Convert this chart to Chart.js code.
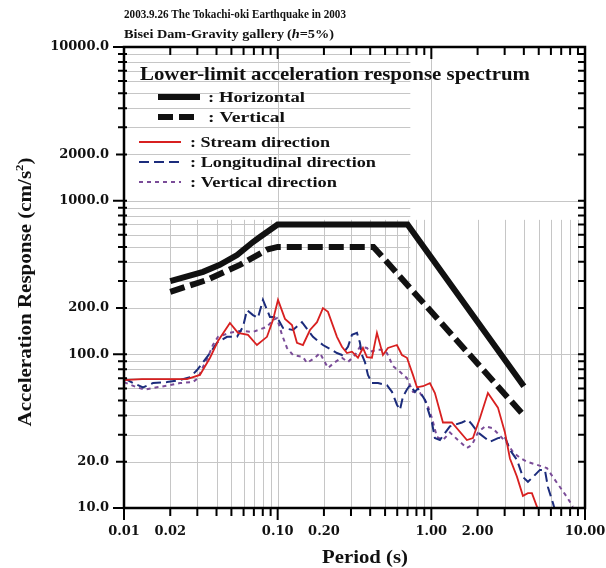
<!DOCTYPE html>
<html>
<head>
<meta charset="utf-8">
<script src="https://cdn.jsdelivr.net/npm/chart.js@4/dist/chart.umd.min.js"></script>
<style>
  html, body { margin: 0; padding: 0; background: #fff; }
  #wrap { width: 606px; height: 568px; }
</style>
</head>
<body>
<div id="wrap"><canvas id="spectrum" width="606" height="568"></canvas></div>
<script>
// Tick labels
const xTickValues = [0.01, 0.02, 0.1, 0.2, 1, 2, 10];
const xTickLabels = ['0.01', '0.02', '0.10', '0.20', '1.00', '2.00', '10.00'];
const yTickValues = [10, 20, 100, 200, 1000, 2000, 10000];
const yTickLabels = ['10.0', '20.0', '100.0', '200.0', '1000.0', '2000.0', '10000.0'];

// Lower-limit acceleration response spectrum
const limitHorizT = [0.02, 0.0327, 0.042, 0.0544, 0.0691, 0.0767, 0.1, 0.7, 4.0];
const limitHorizA = [300, 344, 382, 443, 538, 580, 700, 700, 62];
const limitVertT = [0.02, 0.0347, 0.0568, 0.0852, 0.1, 0.42, 4.0];
const limitVertA = [255, 305, 382, 480, 500, 500, 40];

// Stream direction (observed)
const streamT = [0.01, 0.0131, 0.0257, 0.0312, 0.0363, 0.0409, 0.0489, 0.0552, 0.0641, 0.0733,
  0.0852, 0.0932, 0.1005, 0.1116, 0.1239, 0.1335, 0.1461, 0.1623, 0.1803, 0.1971,
  0.2125, 0.2431, 0.262, 0.2824, 0.3044, 0.3331, 0.3589, 0.3811, 0.4107, 0.4426,
  0.4843, 0.5219, 0.5973, 0.6438, 0.6939, 0.7591, 0.806, 0.8818, 0.979, 1.055,
  1.19, 1.361, 1.704, 1.865, 2.072, 2.335, 2.713, 3.013, 3.247, 3.606,
  3.945, 4.252, 4.514, 4.866, 5.1];
const streamA = [68, 69, 69, 73.5, 95, 122, 160, 138, 134, 115,
  130, 167, 226, 170, 155, 119, 115, 144, 162, 200,
  189, 130, 112, 102, 104, 95, 110, 96, 95, 138,
  99, 110, 115, 99, 95, 73.5, 61, 62, 65, 56,
  36, 36, 27.7, 28.5, 38.5, 56, 45, 31, 21, 16,
  12, 12.5, 12.5, 10.2, 9];

// Longitudinal direction (observed)
const longT = [0.01, 0.01144, 0.0133, 0.01544, 0.01905, 0.0231, 0.0269, 0.0299, 0.0327, 0.0363,
  0.0403, 0.0468, 0.0544, 0.0595, 0.0631, 0.0691, 0.0744, 0.0802, 0.0891, 0.0989,
  0.1083, 0.1258, 0.1439, 0.1697, 0.1971, 0.2431, 0.262, 0.2867, 0.3044, 0.3281,
  0.3432, 0.3537, 0.3698, 0.3868, 0.4107, 0.4494, 0.5142, 0.5543, 0.5973, 0.6248,
  0.6535, 0.6939, 0.7257, 0.7822, 0.8181, 0.9087, 1.009, 1.055, 1.137, 1.321,
  1.581, 1.73, 1.837, 2.011, 2.406, 2.713, 3.013, 3.247, 3.606, 3.945,
  4.252, 4.581, 5.089, 5.484, 5.736, 6.182, 6.371];
const longA = [70, 65, 61, 65, 66, 68, 71, 79, 89, 102,
  119, 130, 130, 151, 194, 180, 172.5, 226, 175, 175,
  148.5, 144, 162, 130, 115, 102, 99, 112, 134, 138,
  119, 99, 89, 73.5, 65, 65, 63, 57, 47, 43.5,
  53, 59, 63, 57, 60, 50.5, 36, 28.5, 27.7, 34,
  36, 37.5, 35, 31, 27, 28.5, 29, 23.9, 20.6, 15.9,
  14.8, 15.9, 17.7, 17.7, 13.7, 10.8, 9.7];

// Vertical direction (observed)
const vertT = [0.01, 0.01215, 0.0137, 0.0164, 0.0199, 0.0231, 0.0281, 0.0303, 0.0327, 0.0352,
  0.0379, 0.0409, 0.0489, 0.0568, 0.0691, 0.0852, 0.0932, 0.0989, 0.1067, 0.115,
  0.1258, 0.1461, 0.1551, 0.1748, 0.1885, 0.2125, 0.236, 0.262, 0.2867, 0.3184,
  0.3432, 0.3811, 0.3986, 0.4426, 0.4843, 0.5142, 0.5627, 0.6248, 0.6939, 0.7591,
  0.8431, 0.9363, 1.009, 1.087, 1.19, 1.321, 1.489, 1.704, 1.837, 2.011,
  2.233, 2.516, 2.795, 3.104, 3.396, 3.771, 4.188, 4.866, 5.651, 6.182,
  6.867, 7.624, 8.34];
const vertA = [66, 61, 59, 61, 63, 65, 66, 70, 83, 96,
  115, 130, 138, 142, 140, 151, 167, 172, 134, 110,
  99, 96, 88, 95, 102, 81.5, 89, 95, 89, 99,
  112, 110, 104, 107, 107, 102, 84, 77, 70, 57,
  56, 48, 38.5, 29, 27.7, 31, 27.7, 24.6, 25.7, 31,
  34, 33, 29.5, 26.5, 23.2, 21.2, 20, 19.1, 18.2, 15.9,
  13.7, 11.8, 10.2];

const SERIF = '"Liberation Serif", "Times New Roman", serif';
const TICKFONT = '"DejaVu Serif", serif';

function toPoints(ts, as) {
  return ts.map((t, i) => ({ x: t, y: as[i] }));
}

// every 1..9 x 10^n value between lo and hi
function logSteps(lo, hi) {
  const out = [];
  for (let e = Math.floor(Math.log10(lo)); e <= Math.ceil(Math.log10(hi)); e++) {
    for (let k = 1; k <= 9; k++) {
      const v = +(k * Math.pow(10, e)).toPrecision(3);
      if (v >= lo * 0.999 && v <= hi * 1.001) out.push({ v: v, k: k });
    }
  }
  return out;
}

// draws runs of text squeezed/stretched to a given total width
function drawRuns(ctx, runs, x, y, width, align) {
  let total = 0;
  runs.forEach(r => { ctx.font = r.font; r.w = ctx.measureText(r.text).width; total += r.w; });
  const sx = width / total;
  ctx.save();
  ctx.translate(x, y);
  ctx.scale(sx, 1);
  ctx.textAlign = 'left';
  let cx = align === 'center' ? -total / 2 : 0;
  runs.forEach(r => {
    ctx.font = r.font;
    ctx.fillText(r.text, cx, r.dy || 0);
    cx += r.w;
  });
  ctx.restore();
}

// grid lines, frame and tick marks
const framePlugin = {
  id: 'frame',
  beforeDatasetsDraw(chart) {
    const { ctx, chartArea: a, scales: { x, y } } = chart;
    ctx.save();
    ctx.strokeStyle = '#c6c6c6';
    ctx.lineWidth = 1;
    const yMinorTop = y.getPixelForValue(750);
    logSteps(0.01, 10).forEach(s => {
      const px = Math.round(x.getPixelForValue(s.v)) + 0.5;
      if (px <= a.left + 2 || px >= a.right - 2) return;
      ctx.beginPath();
      ctx.moveTo(px, s.k === 1 ? a.top : yMinorTop);
      ctx.lineTo(px, a.bottom);
      ctx.stroke();
    });
    const xMinorRight = x.getPixelForValue(0.73);
    logSteps(10, 10000).forEach(s => {
      const py = Math.round(y.getPixelForValue(s.v)) + 0.5;
      if (py <= a.top + 2 || py >= a.bottom - 2) return;
      ctx.beginPath();
      ctx.moveTo(a.left, py);
      ctx.lineTo(s.k === 1 ? a.right : xMinorRight, py);
      ctx.stroke();
    });
    ctx.restore();
  },
  afterDatasetsDraw(chart) {
    const { ctx, chartArea: a, scales: { x, y } } = chart;
    ctx.save();
    ctx.strokeStyle = '#000';
    ctx.lineWidth = 2.5;
    ctx.strokeRect(a.left, a.top, a.right - a.left, a.bottom - a.top);

    ctx.lineWidth = 2;
    logSteps(0.01, 10).forEach(s => {
      const px = x.getPixelForValue(s.v);
      const len = s.k === 1 ? 12 : 8;
      ctx.beginPath();
      ctx.moveTo(px, a.bottom);
      ctx.lineTo(px, a.bottom + len);
      ctx.moveTo(px, a.top);
      ctx.lineTo(px, a.top + len);
      ctx.stroke();
    });
    logSteps(10, 10000).forEach(s => {
      const py = y.getPixelForValue(s.v);
      const len = s.k === 1 ? 11 : (s.k === 2 ? 8 : 6);
      ctx.beginPath();
      ctx.moveTo(a.left - len, py);
      ctx.lineTo(a.left + 3, py);
      ctx.moveTo(a.right, py);
      ctx.lineTo(a.right - 7, py);
      ctx.stroke();
    });
    ctx.restore();
  }
};

// headings, legend and axis titles
const textPlugin = {
  id: 'texts',
  afterDraw(chart) {
    const { ctx } = chart;
    ctx.save();
    ctx.fillStyle = '#111';
    ctx.textBaseline = 'alphabetic';

    const f13 = 'bold 13px ' + SERIF;
    drawRuns(ctx, [{ text: '2003.9.26 The Tokachi-oki Earthquake in 2003', font: f13 }], 124, 18, 222);
    drawRuns(ctx, [
      { text: 'Bisei Dam-Gravity gallery\u2009(', font: f13 },
      { text: 'h', font: 'bold italic 13px ' + SERIF },
      { text: '=5%)', font: f13 }
    ], 124, 38, 210);

    drawRuns(ctx, [{ text: 'Lower-limit acceleration response spectrum', font: 'bold 19px ' + SERIF }], 140, 80, 390);

    const rows = [
      { x0: 158, x1: 200, y: 97, color: '#111', width: 6, dash: [], label: ': Horizontal', tx: 208, tw: 97 },
      { x0: 158, x1: 200, y: 117, color: '#111', width: 6, dash: [15, 6], label: ': Vertical', tx: 208, tw: 77 },
      { x0: 139, x1: 181, y: 142, color: '#d82020', width: 2, dash: [], label: ': Stream direction', tx: 190, tw: 140 },
      { x0: 139, x1: 181, y: 162, color: '#1c2c7c', width: 2, dash: [10, 5], label: ': Longitudinal direction', tx: 190, tw: 186 },
      { x0: 139, x1: 181, y: 182, color: '#7a4c98', width: 2, dash: [4, 4], label: ': Vertical direction', tx: 190, tw: 147 }
    ];
    rows.forEach(r => {
      ctx.beginPath();
      ctx.setLineDash(r.dash);
      ctx.strokeStyle = r.color;
      ctx.lineWidth = r.width;
      ctx.moveTo(r.x0, r.y);
      ctx.lineTo(r.x1, r.y);
      ctx.stroke();
      ctx.setLineDash([]);
      drawRuns(ctx, [{ text: r.label, font: 'bold 15px ' + SERIF }], r.tx, r.y + 5, r.tw);
    });

    drawRuns(ctx, [{ text: 'Period (s)', font: 'bold 19px ' + SERIF }], 365, 563, 86, 'center');

    ctx.translate(31, 292);
    ctx.rotate(-Math.PI / 2);
    drawRuns(ctx, [
      { text: 'Acceleration Response (cm/s', font: 'bold 18px ' + SERIF },
      { text: '2', font: 'bold 11px ' + SERIF, dy: -8 },
      { text: ')', font: 'bold 18px ' + SERIF }
    ], 0, 0, 269, 'center');
    ctx.restore();
  }
};

const ctx = document.getElementById('spectrum').getContext('2d');

new Chart(ctx, {
  type: 'line',
  data: {
    datasets: [
      {
        label: 'Horizontal',
        data: toPoints(limitHorizT, limitHorizA),
        borderColor: '#111',
        borderWidth: 6,
        pointRadius: 0,
        borderJoinStyle: 'miter'
      },
      {
        label: 'Vertical',
        data: toPoints(limitVertT, limitVertA),
        borderColor: '#111',
        borderWidth: 6,
        borderDash: [15, 6],
        pointRadius: 0
      },
      {
        label: 'Stream direction',
        data: toPoints(streamT, streamA),
        borderColor: '#d82020',
        borderWidth: 1.8,
        pointRadius: 0
      },
      {
        label: 'Longitudinal direction',
        data: toPoints(longT, longA),
        borderColor: '#1c2c7c',
        borderWidth: 2,
        borderDash: [10, 5],
        pointRadius: 0
      },
      {
        label: 'Vertical direction',
        data: toPoints(vertT, vertA),
        borderColor: '#7a4c98',
        borderWidth: 2,
        borderDash: [4, 4],
        pointRadius: 0
      }
    ]
  },
  options: {
    responsive: false,
    animation: false,
    layout: {
      padding: { left: 0, top: 47, right: 21, bottom: 0 }
    },
    plugins: {
      legend: { display: false },
      tooltip: { enabled: false }
    },
    scales: {
      x: {
        type: 'logarithmic',
        min: 0.01,
        max: 10,
        afterFit: scale => {
          scale.height = 60;
          scale.paddingLeft = 0;
          scale.paddingRight = 0;
        },
        afterBuildTicks: scale => { scale.ticks = xTickValues.map(v => ({ value: v })); },
        grid: { display: false, drawTicks: false },
        border: { display: false },
        ticks: {
          autoSkip: false,
          maxRotation: 0,
          padding: 16,
          color: '#111',
          font: { family: TICKFONT, size: 13, weight: 'bold' },
          callback: value => {
            const i = xTickValues.indexOf(value);
            return i >= 0 ? xTickLabels[i] : '';
          }
        }
      },
      y: {
        type: 'logarithmic',
        min: 10,
        max: 10000,
        afterFit: scale => {
          scale.width = 124;
          scale.paddingTop = 0;
          scale.paddingBottom = 0;
        },
        afterBuildTicks: scale => { scale.ticks = yTickValues.map(v => ({ value: v })); },
        grid: { display: false, drawTicks: false },
        border: { display: false },
        ticks: {
          autoSkip: false,
          padding: 15,
          color: '#111',
          font: { family: TICKFONT, size: 13, weight: 'bold' },
          callback: value => {
            const i = yTickValues.indexOf(value);
            return i >= 0 ? yTickLabels[i] : '';
          }
        }
      }
    }
  },
  plugins: [framePlugin, textPlugin]
});
</script>
</body>
</html>
